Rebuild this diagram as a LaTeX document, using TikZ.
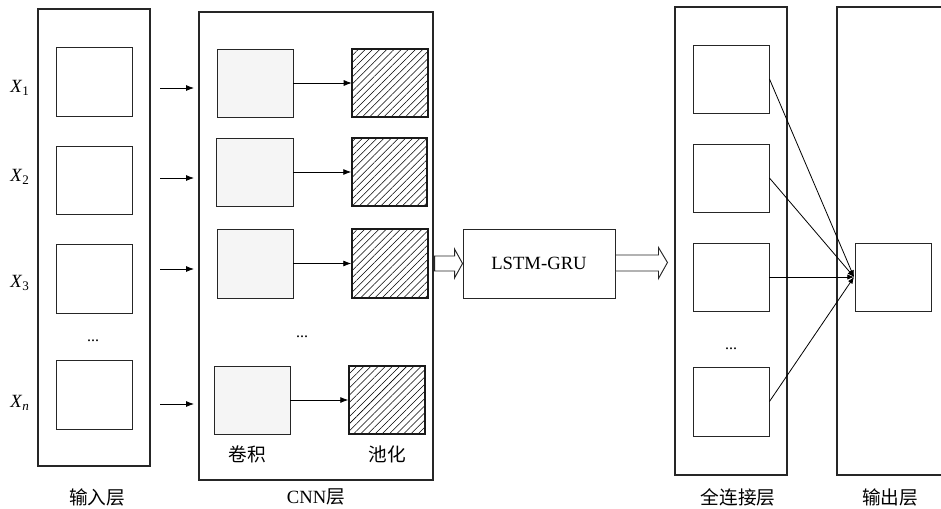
\documentclass[tikz,border=0pt]{standalone}
\usepackage{fontspec}
\setmainfont{Liberation Serif}
\newfontfamily\cjk{Noto Sans CJK SC}
\usetikzlibrary{fit,patterns.meta,arrows.meta,calc}
\tikzset{
  box/.style={draw=black!85, line width=0.7pt, inner sep=0pt, fill=white},
  layerbox/.style={draw=black!85, line width=0.8pt, inner sep=0pt},
  convbox/.style={draw=black!85, line width=0.7pt, inner sep=0pt, fill=gray!8},
  poolbox/.style={draw=black!90, line width=1.1pt, inner sep=0pt,
    pattern={Lines[angle=45,distance=3.8pt,line width=0.4pt]}},
  lbl/.style={font=\fontsize{14}{16}\selectfont, inner sep=0pt},
  cjklbl/.style={font=\fontsize{14}{16}\selectfont\cjk, inner sep=0pt},
  dotslbl/.style={font=\fontsize{12}{14}\selectfont, inner sep=0pt},
  arr/.style={line width=0.6pt, -{Latex[length=6pt,width=4.5pt]}},
  conn/.style={line width=0.6pt, -{Latex[length=5pt,width=4pt]}},
  blockarrow/.style={draw=black!85, line width=0.7pt, fill=white, line join=miter},
}
\begin{document}
\begin{tikzpicture}[x=0.75pt,y=-0.75pt]
\useasboundingbox (0,0) rectangle (941,508);
% input layer
\node[layerbox, fit={(38,9) (150,466)}] (inlayer) {};
\node[box, fit={(56,47) (132,116)}] (in1) {};
\node[box, fit={(56,146) (132,214)}] (in2) {};
\node[box, fit={(56,244) (132,313)}] (in3) {};
\node[box, fit={(56,360) (132,429)}] (in4) {};
\node[dotslbl] (indots) at (93,341) {...};
\node[lbl] (x1) at (20,88) {\textit{X}\textsubscript{1}};
\node[lbl] (x2) at (20,177) {\textit{X}\textsubscript{2}};
\node[lbl] (x3) at (20,283) {\textit{X}\textsubscript{3}};
\node[lbl] (xn) at (20,403) {\textit{X}\textsubscript{\textit{n}}};
\node[cjklbl] (inlabel) at (97,497) {输入层};
% arrows into CNN
\coordinate (a1s) at (160,88);  \coordinate (a1e) at (194,88);
\coordinate (a2s) at (160,178); \coordinate (a2e) at (194,178);
\coordinate (a3s) at (160,269); \coordinate (a3e) at (194,269);
\coordinate (a4s) at (160,404); \coordinate (a4e) at (194,404);
\draw[arr] (a1s) -- (a1e);
\draw[arr] (a2s) -- (a2e);
\draw[arr] (a3s) -- (a3e);
\draw[arr] (a4s) -- (a4e);
% CNN layer
\node[layerbox, fit={(199,12) (433,480)}] (cnn) {};
\node[convbox, fit={(217,49) (293,117)}] (c1) {};
\node[convbox, fit={(216,138) (293,206)}] (c2) {};
\node[convbox, fit={(217,229) (293,298)}] (c3) {};
\node[convbox, fit={(214,366) (290,434)}] (c4) {};
\node[poolbox, fit={(352,49) (428,117)}] (p1) {};
\node[poolbox, fit={(352,138) (427,206)}] (p2) {};
\node[poolbox, fit={(352,229) (428,298)}] (p3) {};
\node[poolbox, fit={(349,366) (425,434)}] (p4) {};
\draw[arr] (c1.east) -- (p1.west);
\draw[arr] (c2.east) -- (p2.west);
\draw[arr] (c3.east) -- (p3.west);
\draw[arr] (c4.east) -- (p4.west);
\node[dotslbl] (cnndots) at (302,337) {...};
\node[cjklbl] (convlbl) at (247,454) {卷积};
\node[cjklbl] (poollbl) at (387,454) {池化};
\node[lbl] (cnnlabel) at (316,497) {CNN{\cjk 层}};
% LSTM-GRU
\node[box, fit={(463,229) (615,298)}] (lstm) {};
\node[lbl] (lstmtext) at (lstm.center) {LSTM-GRU};
\draw[blockarrow] (lstm.west) -- ++(-8,-14.5) -- ++(0,7) -- ++(-20,0) -- ++(0,15) -- ++(20,0) -- ++(0,7) -- cycle;
\coordinate (rtip) at ($(lstm.east)+(52,-1)$);
\draw[blockarrow] (rtip) -- ++(-9,-15) -- ++(0,7.5) -- ++(-43,0) -- ++(0,16) -- ++(43,0) -- ++(0,7.5) -- cycle;
% fully connected layer
\node[layerbox, fit={(675,7) (787,475)}] (fc) {};
\node[box, fit={(693,45) (769,113)}] (f1) {};
\node[box, fit={(693,144) (769,212)}] (f2) {};
\node[box, fit={(693,243) (769,311)}] (f3) {};
\node[box, fit={(693,367) (769,436)}] (f4) {};
\node[dotslbl] (fcdots) at (731,349) {...};
\node[cjklbl] (fclabel) at (738,497) {全连接层};
% output layer
\draw[draw=black!85, line width=0.8pt] (941,7) -- (837,7) -- (837,475) -- (941,475);
\node[box, fit={(855,243) (931,311)}] (out) {};
\node[cjklbl] (outlabel) at (890,497) {输出层};
\coordinate (conv) at (854,277);
\draw[conn] (f1.east) -- (conv);
\draw[conn] (f2.east) -- (conv);
\draw[conn] (f3.east) -- (conv);
\draw[conn] (f4.east) -- (conv);
\end{tikzpicture}
\end{document}
